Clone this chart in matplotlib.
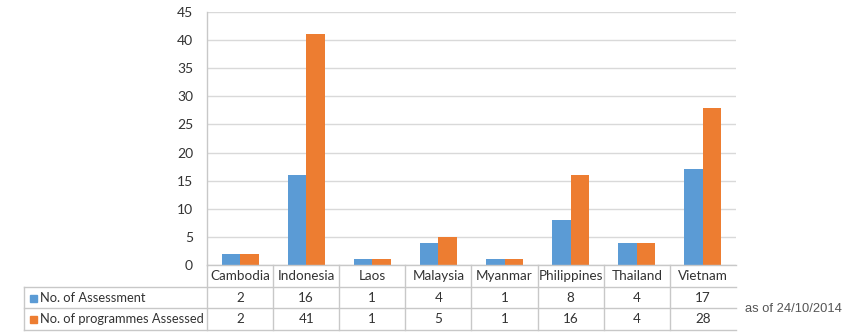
import matplotlib
matplotlib.use("Agg")
import matplotlib.pyplot as plt
import matplotlib.transforms as mtransforms
from matplotlib.lines import Line2D
from matplotlib.patches import Rectangle
import numpy as np

countries = ["Cambodia", "Indonesia", "Laos", "Malaysia", "Myanmar",
             "Philippines", "Thailand", "Vietnam"]
assessments = [2, 16, 1, 4, 1, 8, 4, 17]
programmes = [2, 41, 1, 5, 1, 16, 4, 28]
series_names = ["No. of Assessment", "No. of programmes Assessed"]
yticks = [0, 5, 10, 15, 20, 25, 30, 35, 40, 45]
note = "as of 24/10/2014"

BLUE = "#5B9BD5"
ORANGE = "#ED7D31"
GRID = "#D9D9D9"
BORDER = "#C8C8C8"
TEXT = "#333333"
FONT = "Lato"

W, H = 844, 332
fig = plt.figure(figsize=(W / 100, H / 100), dpi=100)

# plot area in pixel coordinates (from top-left)
left_px, right_px, top_px, bottom_px = 207, 736, 12, 265
ax = fig.add_axes([left_px / W, 1 - bottom_px / H,
                   (right_px - left_px) / W, (bottom_px - top_px) / H])

x = np.arange(len(countries))
bw = 0.28
ax.bar(x - bw / 2, assessments, width=bw, color=BLUE, zorder=3)
ax.bar(x + bw / 2, programmes, width=bw, color=ORANGE, zorder=3)

ax.set_xlim(-0.5, len(countries) - 0.5)
ax.set_ylim(0, 45)
ax.set_yticks(yticks)
ax.set_yticklabels([str(v) for v in yticks], fontsize=10, color=TEXT,
                   family=FONT)
ax.set_xticks([])
ax.tick_params(axis="y", length=0, pad=10)
ax.yaxis.grid(True, color=GRID, linewidth=1.0, zorder=0)
for side in ["top", "right", "bottom"]:
    ax.spines[side].set_visible(False)
ax.spines["left"].set_color(BORDER)
ax.spines["left"].set_linewidth(1.0)

# data table below the plot, x in data units, y in figure fraction
tr = mtransforms.blended_transform_factory(ax.transData, fig.transFigure)
figtr = fig.transFigure


def fy(py):
    return 1 - py / H


row_edges = [265, 287, 308, 330]
xl, xr = -0.5, len(countries) - 0.5
legend_left = 24 / W

# horizontal lines
fig.add_artist(Line2D([xl, xr], [fy(265)] * 2, transform=tr, color=BORDER, lw=1.0))
for py in row_edges[1:]:
    fig.add_artist(Line2D([legend_left, right_px / W], [fy(py)] * 2,
                          transform=figtr, color=BORDER, lw=1.0))
# vertical lines
for i in range(len(countries)):
    fig.add_artist(Line2D([i - 0.5] * 2, [fy(265), fy(330)], transform=tr,
                          color=BORDER, lw=1.0))
fig.add_artist(Line2D([legend_left] * 2, [fy(287), fy(330)], transform=figtr,
                      color=BORDER, lw=1.0))

# header and values
for i, name in enumerate(countries):
    fig.text(i, fy((265 + 287) / 2), name, transform=tr, ha="center",
             va="center", fontsize=9.7, color=TEXT, family=FONT)
    fig.text(i, fy((287 + 308) / 2), str(assessments[i]), transform=tr,
             ha="center", va="center", fontsize=9.7, color=TEXT, family=FONT)
    fig.text(i, fy((308 + 330) / 2), str(programmes[i]), transform=tr,
             ha="center", va="center", fontsize=9.7, color=TEXT, family=FONT)

# legend keys in the table rows
for k, (label, col) in enumerate(zip(series_names, [BLUE, ORANGE])):
    yc = (row_edges[k + 1] + row_edges[k + 2]) / 2
    fig.add_artist(Rectangle((30 / W, fy(yc + 4)), 7 / W, 7 / H,
                             transform=figtr, color=col))
    fig.text(40 / W, fy(yc), label, transform=figtr, ha="left", va="center",
             fontsize=9.3, color=TEXT, family=FONT)

fig.text(745 / W, fy(309), note, ha="left", va="center", fontsize=9.3,
         color="#555555", family="Liberation Sans")

fig.savefig("out.png", dpi=100)
